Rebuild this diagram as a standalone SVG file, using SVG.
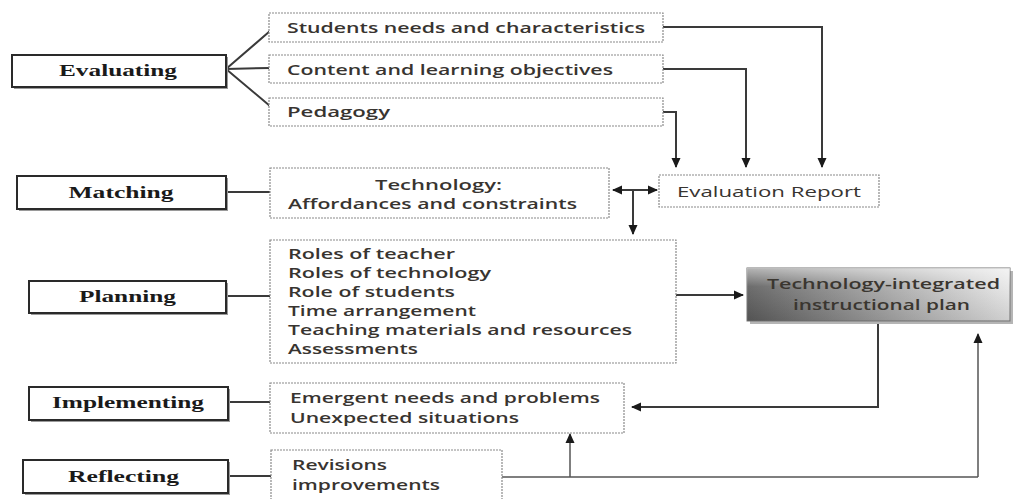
<svg xmlns="http://www.w3.org/2000/svg" width="1013" height="499" viewBox="0 0 1013 499">
<style>
.lbl{fill:#fff;stroke:#2a2a2a;stroke-width:2}
.sh{fill:#9a9a9a}
.ltxt{font-family:"Liberation Serif",serif;font-weight:bold;font-size:17px;fill:#1a1a1a;text-anchor:middle}
.cbox{fill:#fff;stroke:#8a8a8a;stroke-width:1.2;stroke-dasharray:2,1}
.ctxt{font-family:"Open Sans","Liberation Sans",sans-serif;font-weight:600;font-size:15px;fill:#383430}
.ptxt{font-size:14px}
.ln{fill:none;stroke:#3a3a3a;stroke-width:2}
.ln2{fill:none;stroke:#555;stroke-width:1.5}
.arr{marker-end:url(#ah)}
</style>
<defs>
<marker id="ah" markerWidth="10" markerHeight="10" refX="9" refY="5" orient="auto" markerUnits="userSpaceOnUse">
<path d="M0,0.5 L10,5 L0,9.5 Z" fill="#1a1a1a"/>
</marker>
<marker id="ahs" markerWidth="10" markerHeight="10" refX="1" refY="5" orient="auto" markerUnits="userSpaceOnUse">
<path d="M10,0.5 L0,5 L10,9.5 Z" fill="#1a1a1a"/>
</marker>
<linearGradient id="gx" x1="0" y1="0" x2="1" y2="0">
<stop offset="0" stop-color="#5c5c5c"/>
<stop offset="0.45" stop-color="#9a9a9a"/>
<stop offset="1" stop-color="#e6e6e6"/>
</linearGradient>
<linearGradient id="gy" x1="0" y1="0" x2="0" y2="1">
<stop offset="0" stop-color="#fff" stop-opacity="0.55"/>
<stop offset="0.35" stop-color="#fff" stop-opacity="0.1"/>
<stop offset="1" stop-color="#000" stop-opacity="0.1"/>
</linearGradient>
</defs>

<g id="connectors">
<path class="ln" d="M226,69 L270,31 M226,69 L270,68 M226,69 L270,106"/>
<path class="ln" d="M226,192 L270,192"/>
<path class="ln" d="M226,296 L270,296"/>
<path class="ln" d="M228,402 L270,402"/>
<path class="ln" d="M228,476 L271,476"/>
<path class="ln arr" d="M663,27 L822,27 L822,167"/>
<path class="ln arr" d="M663,69 L746,69 L746,167"/>
<path class="ln arr" d="M663,112 L676,112 L676,167"/>
<path class="ln" d="M613,190 L657,190" marker-start="url(#ahs)" marker-end="url(#ah)"/>
<path class="ln arr" d="M633,190 L633,234"/>
<path class="ln arr" d="M676,295 L743,295"/>
<path class="ln arr" d="M878,321 L878,407 L632,407"/>
<path class="ln2" d="M502,477 L978,477"/>
<path class="ln2 arr" d="M978,477 L978,334"/>
<path class="ln2 arr" d="M570,477 L570,434"/>
</g>

<g id="evaluating">
<rect class="sh" x="14" y="57" width="214" height="32"/>
<rect class="lbl" x="12" y="55" width="214" height="32"/>
<text class="ltxt" x="118" y="76" textLength="118" lengthAdjust="spacingAndGlyphs">Evaluating</text>
</g>
<g id="matching">
<rect class="sh" x="19" y="178" width="209" height="33"/>
<rect class="lbl" x="17" y="176" width="209" height="33"/>
<text class="ltxt" x="121" y="198" textLength="105" lengthAdjust="spacingAndGlyphs">Matching</text>
</g>
<g id="planning">
<rect class="sh" x="31" y="283" width="197" height="32"/>
<rect class="lbl" x="29" y="281" width="197" height="32"/>
<text class="ltxt" x="127.5" y="302" textLength="97" lengthAdjust="spacingAndGlyphs">Planning</text>
</g>
<g id="implementing">
<rect class="sh" x="31" y="389" width="199" height="33"/>
<rect class="lbl" x="29" y="387" width="199" height="33"/>
<text class="ltxt" x="128" y="408" textLength="152" lengthAdjust="spacingAndGlyphs">Implementing</text>
</g>
<g id="reflecting">
<rect class="sh" x="25" y="462" width="205" height="33"/>
<rect class="lbl" x="23" y="460" width="205" height="33"/>
<text class="ltxt" x="123.5" y="482" textLength="111" lengthAdjust="spacingAndGlyphs">Reflecting</text>
</g>

<g id="students">
<rect class="cbox" x="269" y="13" width="394" height="29"/>
<text class="ctxt" x="287" y="33" textLength="358" lengthAdjust="spacingAndGlyphs">Students needs and characteristics</text>
</g>
<g id="content">
<rect class="cbox" x="269" y="55" width="394" height="28"/>
<text class="ctxt" x="287" y="75" textLength="326" lengthAdjust="spacingAndGlyphs">Content and learning objectives</text>
</g>
<g id="pedagogy">
<rect class="cbox" x="269" y="98" width="394" height="28"/>
<text class="ctxt" x="287" y="117" textLength="103" lengthAdjust="spacingAndGlyphs">Pedagogy</text>
</g>
<g id="technology">
<rect class="cbox" x="270" y="168" width="339" height="50"/>
<text class="ctxt" x="375" y="190" textLength="127" lengthAdjust="spacingAndGlyphs">Technology:</text>
<text class="ctxt" x="288" y="209" textLength="289" lengthAdjust="spacingAndGlyphs">Affordances and constraints</text>
</g>
<g id="evaluation-report">
<rect class="cbox" x="659" y="175" width="220" height="32"/>
<text class="ctxt" x="677" y="197" textLength="184" lengthAdjust="spacingAndGlyphs" style="font-weight:500">Evaluation Report</text>
</g>
<g id="planning-items">
<rect class="cbox" x="270" y="240" width="406" height="123"/>
<text class="ctxt ptxt" x="288" y="259" textLength="167" lengthAdjust="spacingAndGlyphs">Roles of teacher</text>
<text class="ctxt ptxt" x="288" y="278" textLength="203" lengthAdjust="spacingAndGlyphs">Roles of technology</text>
<text class="ctxt ptxt" x="288" y="297" textLength="167" lengthAdjust="spacingAndGlyphs">Role of students</text>
<text class="ctxt ptxt" x="288" y="316" textLength="188" lengthAdjust="spacingAndGlyphs">Time arrangement</text>
<text class="ctxt ptxt" x="288" y="335" textLength="344" lengthAdjust="spacingAndGlyphs">Teaching materials and resources</text>
<text class="ctxt ptxt" x="288" y="354" textLength="130" lengthAdjust="spacingAndGlyphs">Assessments</text>
</g>
<g id="instructional-plan">
<rect x="750" y="271" width="263" height="53" fill="#b5b5b5"/>
<rect x="747" y="268" width="263" height="53" fill="url(#gx)" stroke="#777" stroke-width="1"/>
<rect x="747" y="268" width="263" height="53" fill="url(#gy)"/>
<text class="ctxt" x="883.5" y="289" text-anchor="middle" textLength="233" lengthAdjust="spacingAndGlyphs" style="fill:#3a3630">Technology-integrated</text>
<text class="ctxt" x="881.5" y="310" text-anchor="middle" textLength="177" lengthAdjust="spacingAndGlyphs" style="fill:#3a3630">instructional plan</text>
</g>
<g id="implementing-items">
<rect class="cbox" x="270" y="383" width="354" height="50"/>
<text class="ctxt" x="290" y="403" textLength="310" lengthAdjust="spacingAndGlyphs">Emergent needs and problems</text>
<text class="ctxt" x="290" y="423" textLength="229" lengthAdjust="spacingAndGlyphs">Unexpected situations</text>
</g>
<g id="reflecting-items">
<rect class="cbox" x="271" y="450" width="231" height="55"/>
<text class="ctxt" x="292" y="470" textLength="95" lengthAdjust="spacingAndGlyphs">Revisions</text>
<text class="ctxt" x="292" y="490" textLength="148" lengthAdjust="spacingAndGlyphs">improvements</text>
</g>
</svg>
